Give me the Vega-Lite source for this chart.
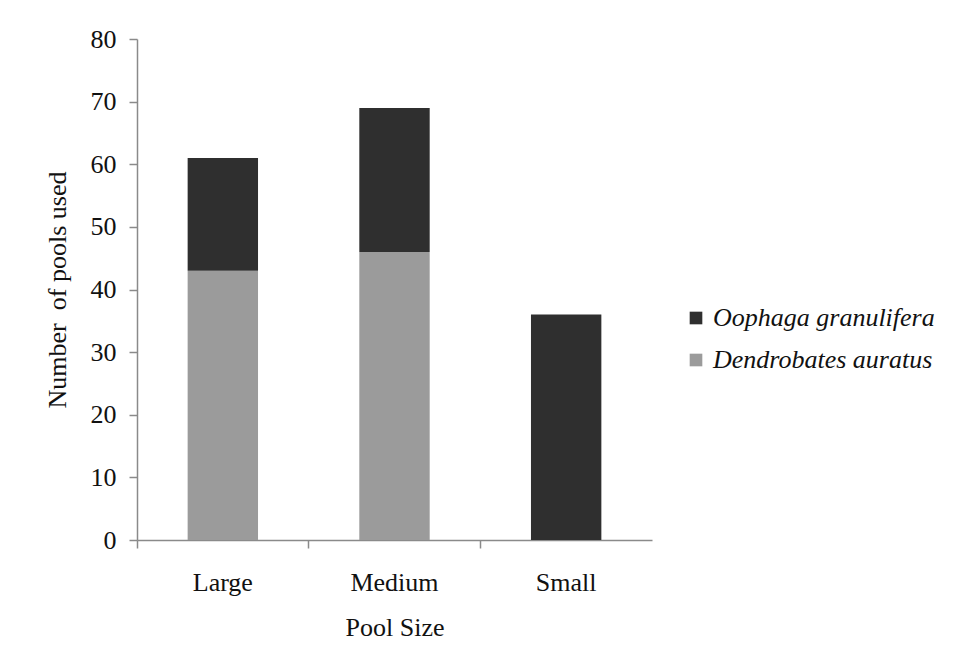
{
  "$schema": "https://vega.github.io/schema/vega-lite/v6.json",
  "autosize": "none",
  "width": 515,
  "height": 501,
  "padding": {"left": 137, "top": 39, "right": 309, "bottom": 122},
  "background": "white",
  "data": {
    "values": [
      {"size": "Large", "species": "Dendrobates auratus", "count": 43, "order": 1},
      {"size": "Large", "species": "Oophaga granulifera", "count": 18, "order": 2},
      {"size": "Medium", "species": "Dendrobates auratus", "count": 46, "order": 1},
      {"size": "Medium", "species": "Oophaga granulifera", "count": 23, "order": 2},
      {"size": "Small", "species": "Dendrobates auratus", "count": 0, "order": 1},
      {"size": "Small", "species": "Oophaga granulifera", "count": 36, "order": 2}
    ]
  },
  "mark": {"type": "bar", "width": {"band": 0.41}},
  "encoding": {
    "x": {
      "field": "size",
      "type": "nominal",
      "sort": ["Large", "Medium", "Small"],
      "scale": {"paddingInner": 0, "paddingOuter": 0},
      "axis": {
        "title": "Pool Size",
        "labelAngle": 0,
        "bandPosition": 0,
        "tickSize": 8,
        "tickColor": "#8a8a8a",
        "domainColor": "#8a8a8a",
        "domainWidth": 1.5,
        "tickWidth": 1.5,
        "labelFont": "Liberation Serif",
        "labelFontSize": 26,
        "labelColor": "#111",
        "labelPadding": 21,
        "titleFont": "Liberation Serif",
        "titleFontSize": 26,
        "titleFontWeight": "normal",
        "titleColor": "#111",
        "titlePadding": 19
      }
    },
    "y": {
      "field": "count",
      "type": "quantitative",
      "stack": "zero",
      "scale": {"domain": [0, 80], "nice": false},
      "axis": {
        "title": "Number \u00a0of pools used",
        "values": [0, 10, 20, 30, 40, 50, 60, 70, 80],
        "grid": false,
        "tickSize": 8,
        "tickColor": "#8a8a8a",
        "domainColor": "#8a8a8a",
        "domainWidth": 1.5,
        "tickWidth": 1.5,
        "labelFont": "Liberation Serif",
        "labelFontSize": 26,
        "labelColor": "#111",
        "labelPadding": 13,
        "titleFont": "Liberation Serif",
        "titleFontSize": 26,
        "titleFontWeight": "normal",
        "titleColor": "#111",
        "titlePadding": 20
      }
    },
    "color": {
      "field": "species",
      "type": "nominal",
      "sort": ["Oophaga granulifera", "Dendrobates auratus"],
      "scale": {
        "domain": ["Oophaga granulifera", "Dendrobates auratus"],
        "range": ["#2f2f2f", "#9b9b9b"]
      },
      "legend": {
        "title": null,
        "orient": "none",
        "legendX": 546,
        "legendY": 266,
        "symbolType": "square",
        "symbolSize": 160,
        "symbolStrokeWidth": 0,
        "labelFont": "Liberation Serif",
        "labelFontSize": 26,
        "labelFontStyle": "italic",
        "labelColor": "#111",
        "labelLimit": 400,
        "labelOffset": 4,
        "rowPadding": 16
      }
    },
    "order": {"field": "order", "type": "quantitative"}
  },
  "config": {
    "view": {"stroke": null}
  }
}
